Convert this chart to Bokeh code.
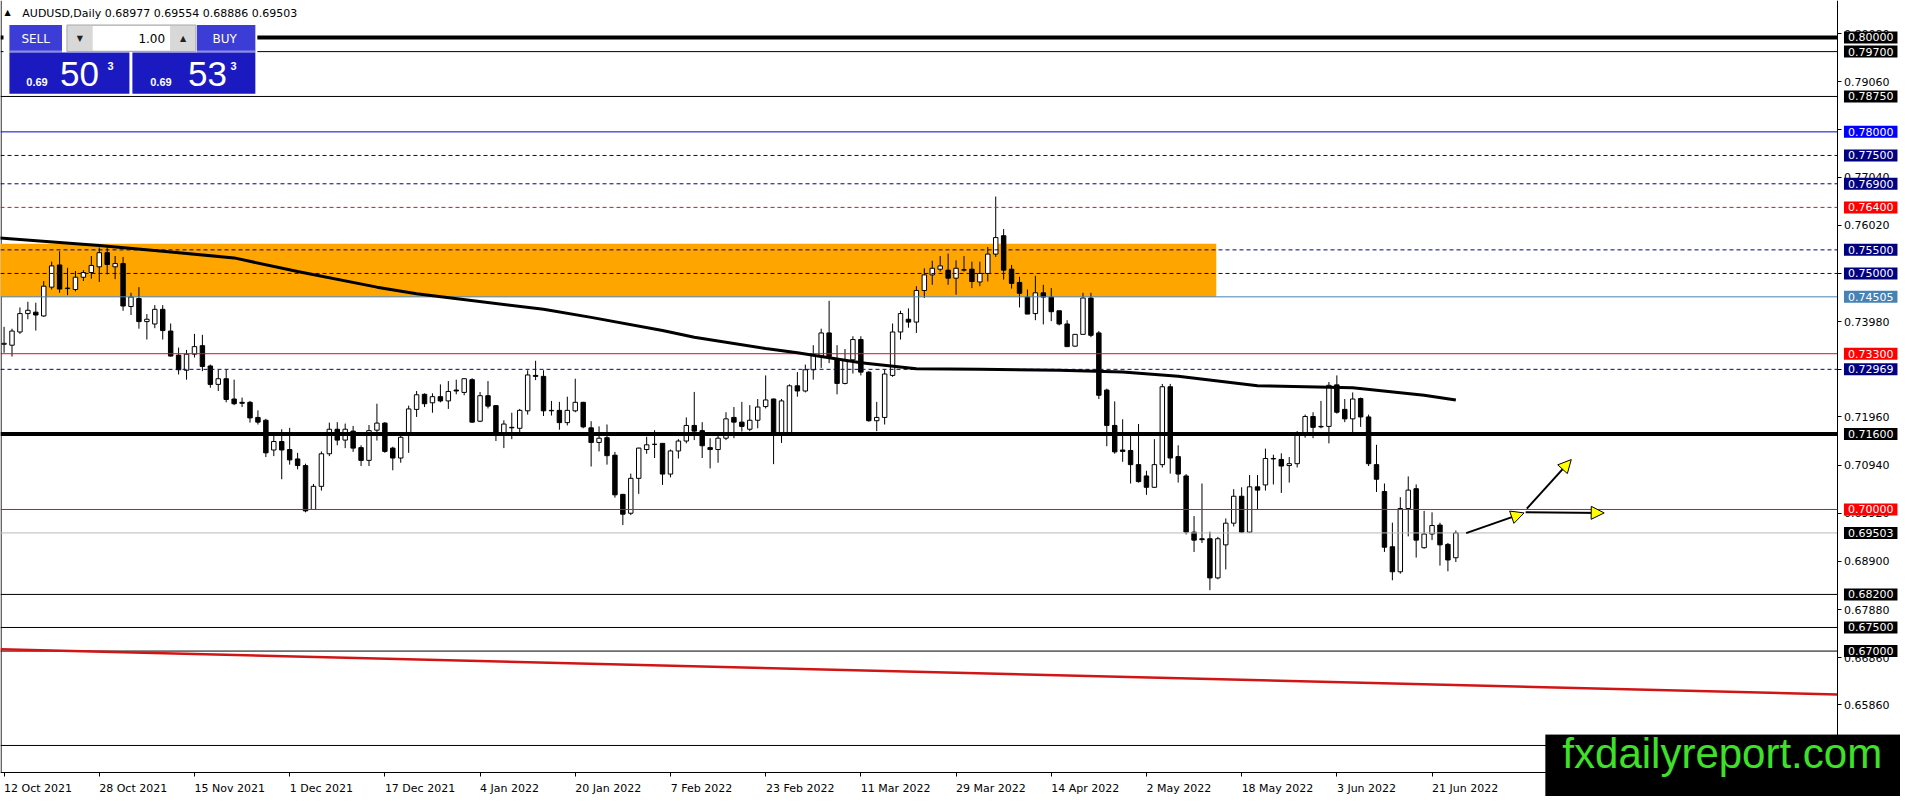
from bokeh.plotting import figure
from bokeh.models import (Range1d, FixedTicker, NumeralTickFormatter, Label, BoxAnnotation,
                          Arrow, NormalHead, ColumnDataSource)
from bokeh.embed import file_html
from bokeh.resources import INLINE

# ---------------- data ----------------
symbol = "AUDUSD,Daily"
last_ohlc = [0.68977, 0.69554, 0.68886, 0.69503]
bid_price = 0.69503
ask_price = 0.69533
lot_size = "1.00"

date_ticks = [0, 12, 24, 36, 48, 60, 72, 84, 96, 108, 120, 132, 144, 156, 168, 180]
date_labels = ["12 Oct 2021", "28 Oct 2021", "15 Nov 2021", "1 Dec 2021", "17 Dec 2021",
               "4 Jan 2022", "20 Jan 2022", "7 Feb 2022", "23 Feb 2022", "11 Mar 2022",
               "29 Mar 2022", "14 Apr 2022", "2 May 2022", "18 May 2022", "3 Jun 2022",
               "21 Jun 2022"]

opens = [0.7350, 0.7348, 0.7376, 0.7415, 0.7418, 0.7410, 0.7471, 0.7518, 0.7468, 0.7466,
         0.7492, 0.7502, 0.7514, 0.7544, 0.7514, 0.7521, 0.7430, 0.7447, 0.7398, 0.7393,
         0.7424, 0.7378, 0.7327, 0.7295, 0.7329, 0.7347, 0.7304, 0.7265, 0.7277, 0.7234,
         0.7227, 0.7227, 0.7195, 0.7189, 0.7126, 0.7144, 0.7127, 0.7107, 0.7093, 0.7000,
         0.7049, 0.7118, 0.7170, 0.7147, 0.7166, 0.7131, 0.7104, 0.7168, 0.7183, 0.7130,
         0.7109, 0.7158, 0.7212, 0.7244, 0.7226, 0.7239, 0.7230, 0.7253, 0.7248, 0.7275,
         0.7187, 0.7241, 0.7220, 0.7159, 0.7173, 0.7172, 0.7209, 0.7284, 0.7282, 0.7209,
         0.7210, 0.7184, 0.7209, 0.7227, 0.7173, 0.7142, 0.7152, 0.7115, 0.7032, 0.6992,
         0.7066, 0.7127, 0.7138, 0.7140, 0.7075, 0.7124, 0.7145, 0.7178, 0.7167, 0.7131,
         0.7127, 0.7151, 0.7195, 0.7185, 0.7170, 0.7189, 0.7218, 0.7234, 0.7158, 0.7158,
         0.7262, 0.7251, 0.7296, 0.7325, 0.7374, 0.7318, 0.7267, 0.7317, 0.7360, 0.7291,
         0.7188, 0.7195, 0.7284, 0.7376, 0.7403, 0.7397, 0.7464, 0.7497, 0.7509, 0.7507,
         0.7490, 0.7507, 0.7509, 0.7482, 0.7500, 0.7541, 0.7580, 0.7509, 0.7481, 0.7450,
         0.7415, 0.7459, 0.7450, 0.7421, 0.7393, 0.7346, 0.7371, 0.7448, 0.7374, 0.7253,
         0.7178, 0.7126, 0.7125, 0.7095, 0.7071, 0.7047, 0.7095, 0.7260, 0.7112, 0.7071,
         0.6952, 0.6938, 0.6938, 0.6855, 0.6925, 0.6971, 0.7028, 0.6952, 0.7048, 0.7052,
         0.7107, 0.7106, 0.7093, 0.7097, 0.7158, 0.7197, 0.7176, 0.7176, 0.7264, 0.7212,
         0.7192, 0.7235, 0.7196, 0.7095, 0.7038, 0.6921, 0.6868, 0.7002, 0.7044, 0.6919,
         0.6948, 0.6967, 0.6926, 0.68977]
highs = [0.7387, 0.7383, 0.7428, 0.7440, 0.7438, 0.7484, 0.7525, 0.7547, 0.7512, 0.7505,
         0.7507, 0.7537, 0.7555, 0.7559, 0.7537, 0.7535, 0.7459, 0.7471, 0.7414, 0.7433,
         0.7433, 0.7394, 0.7343, 0.7338, 0.7372, 0.7370, 0.7307, 0.7296, 0.7296, 0.7275,
         0.7237, 0.7230, 0.7210, 0.7192, 0.7163, 0.7170, 0.7173, 0.7120, 0.7097, 0.7054,
         0.7123, 0.7184, 0.7185, 0.7182, 0.7177, 0.7136, 0.7179, 0.7224, 0.7185, 0.7133,
         0.7161, 0.7220, 0.7251, 0.7246, 0.7246, 0.7265, 0.7272, 0.7275, 0.7278, 0.7278,
         0.7249, 0.7272, 0.7220, 0.7189, 0.7205, 0.7213, 0.7295, 0.7315, 0.7295, 0.7230,
         0.7228, 0.7239, 0.7277, 0.7228, 0.7187, 0.7176, 0.7180, 0.7122, 0.7033, 0.7076,
         0.7131, 0.7154, 0.7168, 0.7140, 0.7127, 0.7149, 0.7195, 0.7249, 0.7185, 0.7151,
         0.7156, 0.7206, 0.7217, 0.7228, 0.7221, 0.7234, 0.7284, 0.7235, 0.7234, 0.7265,
         0.7291, 0.7307, 0.7348, 0.7383, 0.7442, 0.7348, 0.7340, 0.7367, 0.7367, 0.7293,
         0.7228, 0.7296, 0.7394, 0.7421, 0.7426, 0.7473, 0.7511, 0.7527, 0.7537, 0.7542,
         0.7528, 0.7537, 0.7525, 0.7525, 0.7556, 0.7663, 0.7594, 0.7518, 0.7493, 0.7466,
         0.7495, 0.7476, 0.7469, 0.7421, 0.7401, 0.7371, 0.7459, 0.7459, 0.7378, 0.7256,
         0.7229, 0.7191, 0.7156, 0.7181, 0.7082, 0.7149, 0.7266, 0.7266, 0.7136, 0.7075,
         0.6986, 0.7055, 0.6953, 0.6942, 0.6981, 0.7043, 0.7047, 0.7073, 0.7073, 0.7129,
         0.7116, 0.7119, 0.7111, 0.7166, 0.7201, 0.7206, 0.7230, 0.7270, 0.7284, 0.7234,
         0.7248, 0.7237, 0.7201, 0.7137, 0.7055, 0.6972, 0.7026, 0.7070, 0.7053, 0.6997,
         0.6994, 0.6972, 0.6929, 0.69554]
lows = [0.7332, 0.7324, 0.7372, 0.7403, 0.7379, 0.7408, 0.7466, 0.7459, 0.7454, 0.7462,
        0.7484, 0.7489, 0.7482, 0.7498, 0.7488, 0.7421, 0.7412, 0.7383, 0.7360, 0.7384,
        0.7360, 0.7324, 0.7286, 0.7275, 0.7322, 0.7293, 0.7258, 0.7251, 0.7227, 0.7221,
        0.7217, 0.7184, 0.7180, 0.7111, 0.7113, 0.7064, 0.7095, 0.7085, 0.6994, 0.6999,
        0.7040, 0.7113, 0.7136, 0.7130, 0.7122, 0.7092, 0.7092, 0.7146, 0.7120, 0.7083,
        0.7099, 0.7120, 0.7196, 0.7217, 0.7205, 0.7227, 0.7213, 0.7244, 0.7242, 0.7184,
        0.7185, 0.7214, 0.7145, 0.7130, 0.7149, 0.7161, 0.7201, 0.7274, 0.7198, 0.7199,
        0.7169, 0.7178, 0.7206, 0.7172, 0.7091, 0.7123, 0.7095, 0.7025, 0.6967, 0.6988,
        0.7033, 0.7118, 0.7109, 0.7052, 0.7068, 0.7108, 0.7140, 0.7147, 0.7109, 0.7087,
        0.7099, 0.7147, 0.7151, 0.7165, 0.7166, 0.7172, 0.7214, 0.7096, 0.7141, 0.7158,
        0.7239, 0.7248, 0.7275, 0.7300, 0.7310, 0.7244, 0.7265, 0.7288, 0.7284, 0.7186,
        0.7166, 0.7180, 0.7281, 0.7360, 0.7385, 0.7374, 0.7448, 0.7476, 0.7504, 0.7476,
        0.7455, 0.7504, 0.7469, 0.7473, 0.7483, 0.7535, 0.7487, 0.7468, 0.7428, 0.7414,
        0.7401, 0.7392, 0.7399, 0.7390, 0.7345, 0.7345, 0.7371, 0.7365, 0.7234, 0.7134,
        0.7118, 0.7101, 0.7055, 0.7057, 0.7031, 0.7046, 0.7089, 0.7076, 0.7057, 0.6947,
        0.6910, 0.6929, 0.6829, 0.6852, 0.6873, 0.6964, 0.6950, 0.6950, 0.7001, 0.7040,
        0.7053, 0.7035, 0.7057, 0.7089, 0.7152, 0.7151, 0.7172, 0.7140, 0.7203, 0.7185,
        0.7163, 0.7175, 0.7092, 0.7037, 0.6910, 0.6850, 0.6864, 0.6943, 0.6898, 0.6917,
        0.6935, 0.6881, 0.6869, 0.68886]
closes = [0.7352, 0.7378, 0.7415, 0.7422, 0.7412, 0.7473, 0.7516, 0.7467, 0.7469, 0.7492,
          0.7502, 0.7517, 0.7544, 0.7519, 0.7521, 0.7431, 0.7450, 0.7398, 0.7403, 0.7424,
          0.7379, 0.7325, 0.7296, 0.7329, 0.7345, 0.7303, 0.7265, 0.7277, 0.7233, 0.7224,
          0.7225, 0.7194, 0.7185, 0.7120, 0.7144, 0.7126, 0.7105, 0.7093, 0.6997, 0.7049,
          0.7118, 0.7170, 0.7147, 0.7170, 0.7130, 0.7104, 0.7167, 0.7183, 0.7123, 0.7109,
          0.7153, 0.7213, 0.7243, 0.7224, 0.7239, 0.7230, 0.7250, 0.7251, 0.7277, 0.7185,
          0.7241, 0.7219, 0.7159, 0.7181, 0.7174, 0.7210, 0.7285, 0.7282, 0.7209, 0.7210,
          0.7184, 0.7210, 0.7227, 0.7175, 0.7142, 0.7151, 0.7114, 0.7031, 0.6990, 0.7066,
          0.7130, 0.7137, 0.7138, 0.7075, 0.7124, 0.7145, 0.7178, 0.7166, 0.7135, 0.7127,
          0.7151, 0.7192, 0.7185, 0.7176, 0.7189, 0.7217, 0.7232, 0.7158, 0.7230, 0.7262,
          0.7251, 0.7296, 0.7326, 0.7374, 0.7324, 0.7267, 0.7317, 0.7360, 0.7291, 0.7188,
          0.7195, 0.7287, 0.7376, 0.7415, 0.7397, 0.7464, 0.7497, 0.7511, 0.7516, 0.7490,
          0.7511, 0.7508, 0.7483, 0.7500, 0.7541, 0.7576, 0.7507, 0.7479, 0.7458, 0.7414,
          0.7459, 0.7450, 0.7419, 0.7393, 0.7345, 0.7371, 0.7448, 0.7369, 0.7242, 0.7178,
          0.7122, 0.7123, 0.7095, 0.7059, 0.7047, 0.7095, 0.7260, 0.7109, 0.7075, 0.6952,
          0.6935, 0.6936, 0.6855, 0.6938, 0.6971, 0.7028, 0.6952, 0.7048, 0.7041, 0.7108,
          0.7108, 0.7092, 0.7097, 0.7158, 0.7197, 0.7174, 0.7175, 0.7263, 0.7206, 0.7192,
          0.7234, 0.7196, 0.7097, 0.7064, 0.6920, 0.6868, 0.7002, 0.7041, 0.6935, 0.6948,
          0.6966, 0.6925, 0.6893, 0.69503]

# moving average (read at sample bars)
ma_bar = [-1, 12, 20, 29, 37, 47, 52, 68, 74, 83, 87, 96, 100, 108, 115, 123, 133, 141,
          148, 158, 170, 179, 183]
ma_val = [0.7576, 0.7559, 0.7547, 0.7533, 0.7504, 0.7471, 0.7457, 0.7424, 0.7407, 0.7379,
          0.7365, 0.7341, 0.7332, 0.7311, 0.7298, 0.7297, 0.7295, 0.7291, 0.7282, 0.7262,
          0.7258, 0.7242, 0.7232]

# long red trend line (end points)
trend_bar = [-0.45, 231.05]
trend_val = [0.6704, 0.6608]

# orange supply zone
zone_bar = [-1.0, 152.8]
zone_val = [0.74505, 0.7563]

# horizontal levels
levels = [0.80000, 0.79700, 0.78750, 0.78000, 0.77500, 0.76900, 0.76400, 0.75500, 0.75000,
          0.74505, 0.73300, 0.72969, 0.71600, 0.70000, 0.69503, 0.68200, 0.67500, 0.67000,
          0.65000]

# projection arrows
arrow_bar0 = [184.3, 191.95, 191.8]
arrow_val0 = [0.69500, 0.70019, 0.69942]
arrow_bar1 = [191.6, 197.55, 201.7]
arrow_val1 = [0.69927, 0.71057, 0.69927]

y_tick_values = [0.8008, 0.7906, 0.7804, 0.7704, 0.7602, 0.7500, 0.7398, 0.7296, 0.7196,
                 0.7094, 0.6992, 0.6890, 0.6788, 0.6686, 0.6586]

# ---------------- styles ----------------
NAVY = "#000080"
RED_LINE = "#E01010"
level_line_color = ["black", "black", "black", "#0000E0", NAVY, NAVY, RED_LINE, NAVY, NAVY,
                    "#4682B4", RED_LINE, NAVY, "black", RED_LINE, "#B8B8B8", "black", "black",
                    "black", "black"]
level_line_width = [4, 1, 1, 1, 1, 1, 1, 1, 1, 1, 1, 1, 4, 1, 1, 1, 1, 1, 1]
level_dash = ["solid", "solid", "solid", "solid", "4 3", "4 3", "4 3", "4 3", "4 3", "solid",
              "solid", "4 3", "solid", "solid", "solid", "solid", "solid", "solid", "solid"]
tag_color = ["black", "black", "black", "#0000FF", NAVY, NAVY, "#FF0000", NAVY, NAVY,
             "#4682B4", "#FF0000", NAVY, "black", "#FF0000", "black", "black", "black",
             "black", None]

FONT = "DejaVu Sans"
FONT2 = "Liberation Sans"

# reference-pixel -> data helpers (for decorations only)
def dx(px):
    return -0.45 + px / 8.0

def dy(py):
    return 0.80783 - py / 4815.0

AXIS_X = dx(1852)   # price-axis position
AXIS_Y = dy(788)    # time-axis position

W, H = 1900, 796
p = figure(width=W, height=H, output_backend="svg", toolbar_location=None,
           x_range=Range1d(dx(0), dx(1916)), y_range=Range1d(dy(812), dy(0)),
           y_axis_location="right", min_border=0)
p.background_fill_color = "white"
p.border_fill_color = "white"
p.outline_line_color = None
p.grid.visible = False

# x axis (fixed at the bottom edge of the price area)
px_per_bar = W / (dx(1916) - dx(0))
cw = {" ": 3.5, "O": 8.6, "D": 8.5, "N": 8.2, "F": 6.3, "M": 9.5, "A": 7.5, "J": 3.3,
      "c": 6.0, "t": 4.3, "e": 6.8, "o": 6.7, "v": 6.5, "a": 6.7, "n": 7.0, "u": 7.0,
      "b": 7.0, "r": 4.5, "p": 7.0, "y": 6.5}
def text_w(s):
    return sum(cw.get(ch, 7.0) for ch in s)
major_pos = [t + text_w(s) / 2.0 / px_per_bar for t, s in zip(date_ticks, date_labels)]
xa = p.xaxis[0]
xa.fixed_location = AXIS_Y
xa.bounds = (dx(0), AXIS_X)
xa.ticker = FixedTicker(ticks=major_pos, minor_ticks=date_ticks)
xa.major_label_overrides = {m: s for m, s in zip(major_pos, date_labels)}
xa.major_tick_line_color = None
xa.major_tick_out = 0
xa.major_tick_in = 0
xa.minor_tick_out = 4
xa.minor_tick_in = 0
xa.minor_tick_line_color = "black"
xa.major_label_standoff = 5
xa.major_label_text_font = FONT
xa.major_label_text_font_size = "11px"
xa.major_label_text_color = "black"
xa.axis_line_color = "black"

# y axis (fixed at the right edge of the price area)
ya = p.yaxis[0]
ya.fixed_location = AXIS_X
ya.bounds = (AXIS_Y, dy(0))
ya.ticker = FixedTicker(ticks=y_tick_values)
ya.formatter = NumeralTickFormatter(format="0.00000")
ya.major_tick_out = 4
ya.major_tick_in = 0
ya.minor_tick_line_color = None
ya.major_label_standoff = 3
ya.major_label_text_font = FONT
ya.major_label_text_font_size = "11px"
ya.major_label_text_color = "black"
ya.axis_line_color = "black"

# left border of the chart window
p.segment(x0=[dx(0.6)], y0=[dy(0)], x1=[dx(0.6)], y1=[AXIS_Y], line_color="black",
          line_width=1)

# orange zone
p.quad(left=[zone_bar[0]], right=[zone_bar[1]], bottom=[zone_val[0]], top=[zone_val[1]],
       fill_color="#FFA500", line_color=None)

# candles
xs = list(range(len(opens)))
src = ColumnDataSource(dict(
    x=xs, h=highs, l=lows,
    top=[max(o, c) for o, c in zip(opens, closes)],
    bottom=[min(o, c) for o, c in zip(opens, closes)],
    fill=["white" if c >= o else "black" for o, c in zip(opens, closes)]))
p.segment(x0="x", y0="h", x1="x", y1="l", source=src, line_color="black", line_width=1)
p.vbar(x="x", width=0.56, top="top", bottom="bottom", fill_color="fill",
       line_color="black", line_width=1, source=src)

# horizontal levels
for lv, c, w, d in zip(levels, level_line_color, level_line_width, level_dash):
    p.segment(x0=[dx(0)], y0=[lv], x1=[AXIS_X], y1=[lv],
              line_color=c, line_width=w, line_dash=d)

# moving average
p.line(ma_bar, ma_val, line_color="black", line_width=3)

# trend line
p.line(trend_bar, trend_val, line_color="#D01515", line_width=2.5)

# arrows
for x0, y0, x1, y1 in zip(arrow_bar0, arrow_val0, arrow_bar1, arrow_val1):
    p.add_layout(Arrow(end=NormalHead(size=13, fill_color="#FFFF00", line_color="black",
                                      line_width=1),
                       x_start=x0, y_start=y0, x_end=x1, y_end=y1,
                       line_color="black", line_width=2))

# price tags on the right
for lv, c in zip(levels, tag_color):
    if c is None:
        continue
    p.add_layout(Label(x=dx(1859), y=lv, text=f"{lv:.5f}", text_color="white",
                       text_font=FONT, text_font_size="11px",
                       text_baseline="middle", text_align="left",
                       background_fill_color=c, background_fill_alpha=1.0,
                       padding=(4, 2)))

# header
p.add_layout(Label(x=dx(4), y=dy(12), text="\u25b2", text_font=FONT,
                   text_font_size="8px", text_color="black", text_baseline="middle"))
p.add_layout(Label(x=dx(22), y=dy(13),
                   text=f"{symbol}  " + " ".join(f"{v:.5f}" for v in last_ohlc),
                   text_font=FONT, text_font_size="11px", text_color="black",
                   text_baseline="middle"))

# trade panel
def box(x0, x1, y0, y1, fill, line=None):
    p.add_layout(BoxAnnotation(left=dx(x0), right=dx(x1), top=dy(y0), bottom=dy(y1),
                               fill_color=fill, fill_alpha=1.0,
                               line_color=line if line else "white",
                               line_alpha=1.0 if line else 0.0,
                               line_width=1))

box(3, 259, 19, 96, "white")
box(9, 62, 25, 52, "#3C3CD6")
box(198, 257, 25, 52, "#3C3CD6")
box(9, 62, 51, 53, "#8C8CE6")
box(198, 257, 51, 53, "#8C8CE6")
box(67, 197, 25, 52, "#D8D8D8", "#A8A8A8")
box(93, 171, 26, 51, "white")
box(9, 130, 53, 95, "#1A1AC0")
box(133, 257, 53, 95, "#1A1AC0")

def lab(x, y, text, size, color="white", align="left", baseline="middle",
        font=FONT, style="normal"):
    p.add_layout(Label(x=dx(x), y=dy(y), text=text, text_font=font,
                       text_font_size=size, text_color=color, text_align=align,
                       text_baseline=baseline, text_font_style=style))

lab(35.5, 39, "SELL", "12px", align="center")
lab(226, 39, "BUY", "12px", align="center")
lab(80, 39, "\u25bc", "8px", color="#202020", align="center")
lab(184, 39, "\u25b2", "8px", color="#202020", align="center")
lab(166, 39, lot_size, "12px", color="black", align="right")

bid_s = f"{bid_price:.5f}"
ask_s = f"{ask_price:.5f}"
for s, x_small, x_big, x_sup in [(bid_s, 26, 60, 108), (ask_s, 151, 189, 232)]:
    lab(x_small, 83.5, s[:4], "11px", font=FONT2, style="bold")
    lab(x_big, 74.5, s[4:6], "35px", font=FONT2)
    lab(x_sup, 66.5, s[6], "11px", font=FONT2, style="bold")

# watermark
p.add_layout(BoxAnnotation(left=dx(1558), right=dx(1930), top=dy(749), bottom=dy(830),
                           fill_color="black", fill_alpha=1.0, line_color="black"))
p.add_layout(Label(x=dx(1575), y=dy(792), text="fxdailyreport.com", text_font=FONT2,
                   text_font_size="42px", text_color="#3EE02A"))

open("out.html", "w").write(file_html(p, INLINE))
